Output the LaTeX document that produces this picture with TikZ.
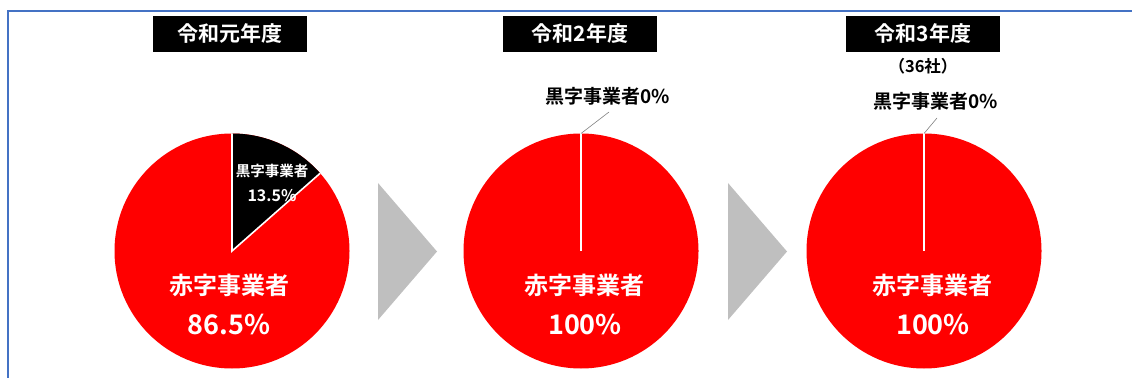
\documentclass[tikz,border=0pt]{standalone}
\usepackage{fontspec}
\usetikzlibrary{calc}
\setmainfont{Noto Sans CJK JP}[BoldFont={Noto Sans CJK JP Bold}]
\definecolor{framecol}{HTML}{4472C4}
\definecolor{piered}{HTML}{FF0000}
\definecolor{arrowgray}{HTML}{BFBFBF}
\begin{document}
\begin{tikzpicture}[x=1pt,y=1pt,
  titlebox/.style={fill=black,text=white,font=\bfseries\fontsize{21}{21}\selectfont,minimum width=154pt,minimum height=36pt,inner sep=0pt},
  bigname/.style={text=white,font=\bfseries\fontsize{24}{24}\selectfont,inner sep=0pt},
  bignum/.style={text=white,font=\bfseries\fontsize{27}{27}\selectfont,inner sep=0pt},
  smallname/.style={text=white,font=\bfseries\fontsize{14.5}{14.5}\selectfont,inner sep=0pt},
  smallnum/.style={text=white,font=\bfseries\fontsize{16}{16}\selectfont,inner sep=0pt},
  outlabel/.style={text=black,font=\bfseries\fontsize{19}{19}\selectfont,inner sep=0pt},
  leader/.style={draw=gray,line width=0.6pt},
  sep/.style={draw=white,line width=1.6pt},
  chevron/.style={fill=arrowgray}]
\useasboundingbox (0,0) rectangle (1132,378);
% frame
\draw[framecol,line width=1.5pt] (1132,367) -- (8,367) -- (8,0);
% pie 1
\coordinate (c1) at (232,127);
\fill[piered] (c1) circle (117.5);
\fill[black] (c1) -- ++(90:117.5) arc (90:41.4:117.5) -- cycle;
\draw[sep] ($(c1)+(90:117.5)$) -- (c1) -- ($(c1)+(41.4:117.5)$);
% pie 2
\coordinate (c2) at (581,127);
\fill[piered] (c2) circle (117.5);
\coordinate (t2) at (581,244.5);
\draw[sep] (t2) -- (c2);
% pie 3
\coordinate (c3) at (924,127);
\fill[piered] (c3) circle (117.5);
\coordinate (t3) at (924,244.5);
\draw[sep] (t3) -- (c3);
% chevrons
\fill[chevron] (378,195) -- (437,126.5) -- (378,58) -- cycle;
\fill[chevron] (728,195) -- (787,126.5) -- (728,58) -- cycle;
% titles
\node[titlebox] (h1) at (230,344) {令和元年度};
\node[titlebox] (h2) at (580,344) {令和2年度};
\node[titlebox] (h3) at (923,344) {令和3年度};
\node[font=\bfseries\fontsize{16.5}{16.5}\selectfont,inner sep=0pt] (n3) at (923,312) {（36社）};
% pie 1 labels
\node[smallname] (b1) at (272,207) {黒字事業者};
\node[smallnum] (bp1) at (272,182) {13.5\%};
\node[bigname] (r1) at (229,93) {赤字事業者};
\node[bignum] (rp1) at (229,53) {86.5\%};
% pie 2 labels
\node[outlabel] (b2) at (608,282) {黒字事業者0\%};
\draw[leader] (t2) -- (609,266);
\node[bigname] (r2) at (584,93) {赤字事業者};
\node[bignum] (rp2) at (585,53) {100\%};
% pie 3 labels
\node[outlabel] (b3) at (936,277) {黒字事業者0\%};
\draw[leader] (t3) -- (937,260);
\node[bigname] (r3) at (932,93) {赤字事業者};
\node[bignum] (rp3) at (933,53) {100\%};
\end{tikzpicture}
\end{document}
